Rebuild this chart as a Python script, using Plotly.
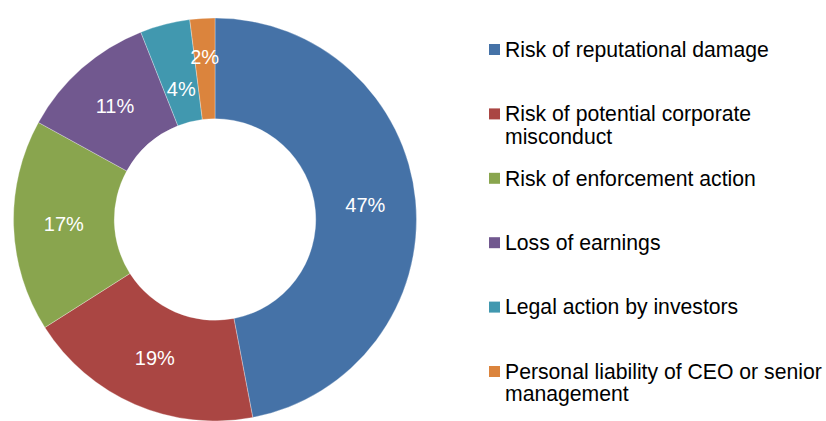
import plotly.graph_objects as go

labels = [
    "Risk of reputational damage",
    "Risk of potential corporate<br>misconduct",
    "Risk of enforcement action",
    "Loss of earnings",
    "Legal action by investors",
    "Personal liability of CEO or senior<br>management",
]
values = [47, 19, 17, 11, 4, 2]
colors = ["#4572A7", "#AA4643", "#89A54E", "#71588F", "#4198AF", "#DB843D"]

W, H = 826, 421
FONT = "Liberation Sans, Arial, sans-serif"
CX, CY, R = 215, 219.5, 201.5  # pie centre / radius in pixels


def dom(radius):
    return dict(x=[(CX - radius) / W, (CX + radius) / W],
                y=[1 - (CY + radius) / H, 1 - (CY - radius) / H])


# small slices get their labels from transparent helper pies (label radius differs)
small = {4: 152, 5: 173}  # slice index -> helper pie radius

main_text = ["" if i in small else f"{v}%" for i, v in enumerate(values)]

fig = go.Figure()
fig.add_trace(go.Pie(
    labels=[l.replace("<br>", " ") for l in labels],
    values=values,
    hole=0.5,
    sort=False,
    direction="clockwise",
    rotation=0,
    marker=dict(colors=colors, line=dict(color="rgba(255,255,255,0.6)", width=0.5)),
    text=main_text,
    texttemplate="%{text}",
    textposition="inside",
    insidetextorientation="horizontal",
    textfont=dict(color="white", size=20, family=FONT),
    showlegend=False,
    hoverinfo="label+value",
    domain=dom(R),
))

for idx, rad in small.items():
    txt = [f"{v}%" if i == idx else "" for i, v in enumerate(values)]
    fig.add_trace(go.Pie(
        labels=[l.replace("<br>", " ") for l in labels],
        values=values,
        sort=False,
        direction="clockwise",
        rotation=0,
        marker=dict(colors=["rgba(0,0,0,0)"] * len(values), line=dict(width=0)),
        text=txt,
        texttemplate="%{text}",
        textposition="inside",
        insidetextorientation="horizontal",
        textfont=dict(color="white", size=20, family=FONT),
        showlegend=False,
        hoverinfo="skip",
        domain=dom(rad),
    ))

# legend drawn as shapes + annotations
top0 = 49.5
step = 64.4
line_h = 22.5
annotations = []
shapes = []
for i, (lab, col) in enumerate(zip(labels, colors)):
    yc = top0 + i * step
    shapes.append(dict(type="rect", xref="paper", yref="paper",
                       x0=489 / W, x1=500 / W,
                       y0=1 - (yc + 5.5) / H, y1=1 - (yc - 5.5) / H,
                       fillcolor=col, line=dict(width=0)))
    for j, part in enumerate(lab.split("<br>")):
        annotations.append(dict(xref="paper", yref="paper",
                                x=503 / W, y=1 - (yc + j * line_h) / H,
                                xanchor="left", yanchor="middle",
                                text=part, showarrow=False,
                                font=dict(size=21.2, color="#000000", family=FONT)))

fig.update_layout(
    width=W, height=H,
    margin=dict(l=0, r=0, t=0, b=0),
    paper_bgcolor="white",
    plot_bgcolor="white",
    uniformtext=dict(mode="show", minsize=20),
    annotations=annotations,
    shapes=shapes,
)
fig.write_html("out.html", config={"displayModeBar": False},
               post_script="document.body.style.margin='0';")
